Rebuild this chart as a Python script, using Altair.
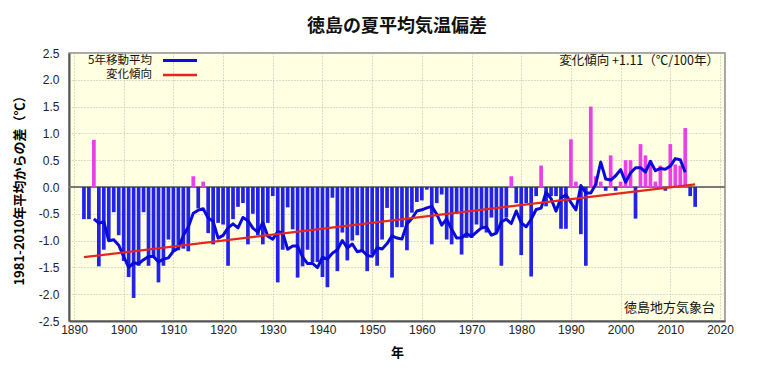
import altair as alt
import pandas as pd

# ---- data ----
years = list(range(1892, 2016))
anomaly = [
    -0.6, -0.6, 0.88, -1.48, -1.17, -1.0, -0.47, -0.9, -1.38, -1.68,
    -2.07, -1.47, -0.47, -1.47, -1.3, -1.78, -1.47, -0.98, -1.2, -1.18,
    -1.15, -1.2, 0.2, -0.4, 0.1, -0.86, -1.07, -0.67, -0.7, -1.47,
    -0.6, -0.37, -0.3, -1.07, -0.5, -0.9, -1.07, -0.67, -0.17, -1.78,
    -1.17, -0.38, -0.79, -1.69, -1.48, -1.17, -1.4, -1.4, -1.68, -1.87,
    -0.2, -1.57, -0.85, -1.37, -1.0, -0.9, -1.2, -1.57, -1.25, -1.47,
    -0.98, -0.39, -1.69, -0.75, -0.75, -1.18, -0.48, -0.28, -0.25, -0.05,
    -1.07, -0.3, -0.14, -0.98, -1.07, -0.5, -1.26, -0.95, -0.95, -0.7,
    -0.75, -0.85, -0.57, -0.85, -1.47, -0.57, 0.2, -0.3, -1.27, -0.3,
    -1.67, -0.17, 0.4, -0.36, -0.17, -0.17, -0.78, -0.78, 0.89, 0.1,
    -0.88, -1.47, 1.5, 0.2, 0.1, -0.07, 0.59, -0.07, 0.1, 0.5,
    0.5, -0.59, 0.8, 0.59, 0.5, 0.1, 0.4, -0.07, 0.8, 0.42,
    0.4, 1.1, -0.17, -0.37,
]
trend_years = [1892, 2015]
trend_values = [-1.31, 0.05]
x_ticks = list(range(1890, 2021, 10))
y_ticks = [-2.5, -2.0, -1.5, -1.0, -0.5, 0.0, 0.5, 1.0, 1.5, 2.0, 2.5]
legend_labels = ["5年移動平均", "変化傾向"]
title_text = "徳島の夏平均気温偏差"
y_title = "1981-2010年平均からの差（℃）"
x_title = "年"
trend_note = "変化傾向 +1.11（℃/100年）"
source_note = "徳島地方気象台"

# ---- styles ----
BLUE_BAR = "#2323E8"
MAGENTA = "#EC3FEC"
BLUE_LINE = "#0A0ADC"
RED = "#E4261E"
CJK = "Noto Sans CJK JP"
NUM = "Liberation Sans"

df = pd.DataFrame({"year": years, "anom": anomaly})
trend_df = pd.DataFrame({"year": trend_years, "anom": trend_values})
zero_df = pd.DataFrame({"anom": [0.0]})

W, H = 656, 268

x_scale = alt.Scale(domain=[1890, 2020], nice=False, zero=False)
y_scale = alt.Scale(domain=[-2.5, 2.5], nice=False)

x_axis = alt.Axis(
    values=x_ticks, format="d", title=x_title, grid=True,
    gridDash=[1, 2], gridColor="#b9b9b9", gridWidth=1,
    ticks=False, labelPadding=3, labelFont=NUM, labelFontSize=12,
    labelColor="#222", domainColor="#555", domainWidth=2,
    titleFont=CJK, titleFontSize=13, titleFontWeight="bold",
    titleY=31, titleBaseline="middle", labelFlush=False,
)
y_axis = alt.Axis(
    values=y_ticks, title=y_title, grid=True,
    gridDash=[1, 2], gridColor="#b9b9b9", gridWidth=1,
    ticks=False, labelPadding=10, labelFont=NUM, labelFontSize=12,
    labelColor="#222", domainColor="#555", domainWidth=2,
    labelExpr="replace(format(datum.value, '.1f'), '\u2212', '-')",
    titleFont=CJK, titleFontSize=13, titleFontWeight="bold",
    titleX=-50, titleY=H / 2, titleAngle=270, titleAlign="center",
    titleBaseline="middle", labelFlush=False,
)

x_enc = alt.X("year:Q", scale=x_scale, axis=x_axis)
y_enc = alt.Y("anom:Q", scale=y_scale, axis=y_axis, stack=None)

zero_line = alt.Chart(zero_df).mark_rule(color="#7a7a7a", strokeWidth=2).encode(y=y_enc)

bars = alt.Chart(df).mark_bar(width=3.7).encode(
    x=x_enc,
    y=y_enc,
    color=alt.condition("datum.anom >= 0", alt.value(MAGENTA), alt.value(BLUE_BAR)),
)

moving = alt.Chart(df).transform_window(
    ma="mean(anom)", n="count()", frame=[-2, 2], sort=[alt.SortField("year")]
).transform_filter("datum.n == 5").mark_line(
    color=BLUE_LINE, strokeWidth=3, strokeJoin="round"
).encode(
    x=x_enc,
    y=alt.Y("ma:Q", scale=y_scale, axis=y_axis),
)

trend = alt.Chart(trend_df).mark_line(color=RED, strokeWidth=2.2).encode(
    x=x_enc, y=y_enc
)

one = pd.DataFrame({"k": [0]})

def label(txt, x, y, align="right", size=12.5):
    return alt.Chart(one).mark_text(
        align=align, baseline="middle", font=CJK, fontSize=size, color="#111"
    ).encode(x=alt.value(x), y=alt.value(y), text=alt.value(txt))

leg1 = label(legend_labels[0], 83, 7.5, size=11.5)
leg2 = label(legend_labels[1], 83, 22, size=11.5)
legr1 = alt.Chart(one).mark_rule(color=BLUE_LINE, strokeWidth=3).encode(
    x=alt.value(94), x2=alt.value(128), y=alt.value(7.5))
legr2 = alt.Chart(one).mark_rule(color=RED, strokeWidth=2.5).encode(
    x=alt.value(94), x2=alt.value(128), y=alt.value(22))
note1 = label(trend_note, 650, 7.5)
note2 = label(source_note, 646, 255, size=13)

chart = alt.layer(
    zero_line, bars, moving, trend, leg1, leg2, legr1, legr2, note1, note2
).properties(
    width=W, height=H,
    title=alt.TitleParams(title_text, font=CJK, fontSize=18, fontWeight="bold",
                          anchor="middle", offset=11, color="#111"),
    autosize=alt.AutoSizeParams(type="none"),
    padding={"left": 61, "top": 45, "right": 29, "bottom": 48},
    background="white",
).configure_view(fill="#FFFFE2", stroke="#8a8a8a", strokeWidth=1.5)

chart.save("out.html", embed_options={"renderer": "svg", "actions": False})
